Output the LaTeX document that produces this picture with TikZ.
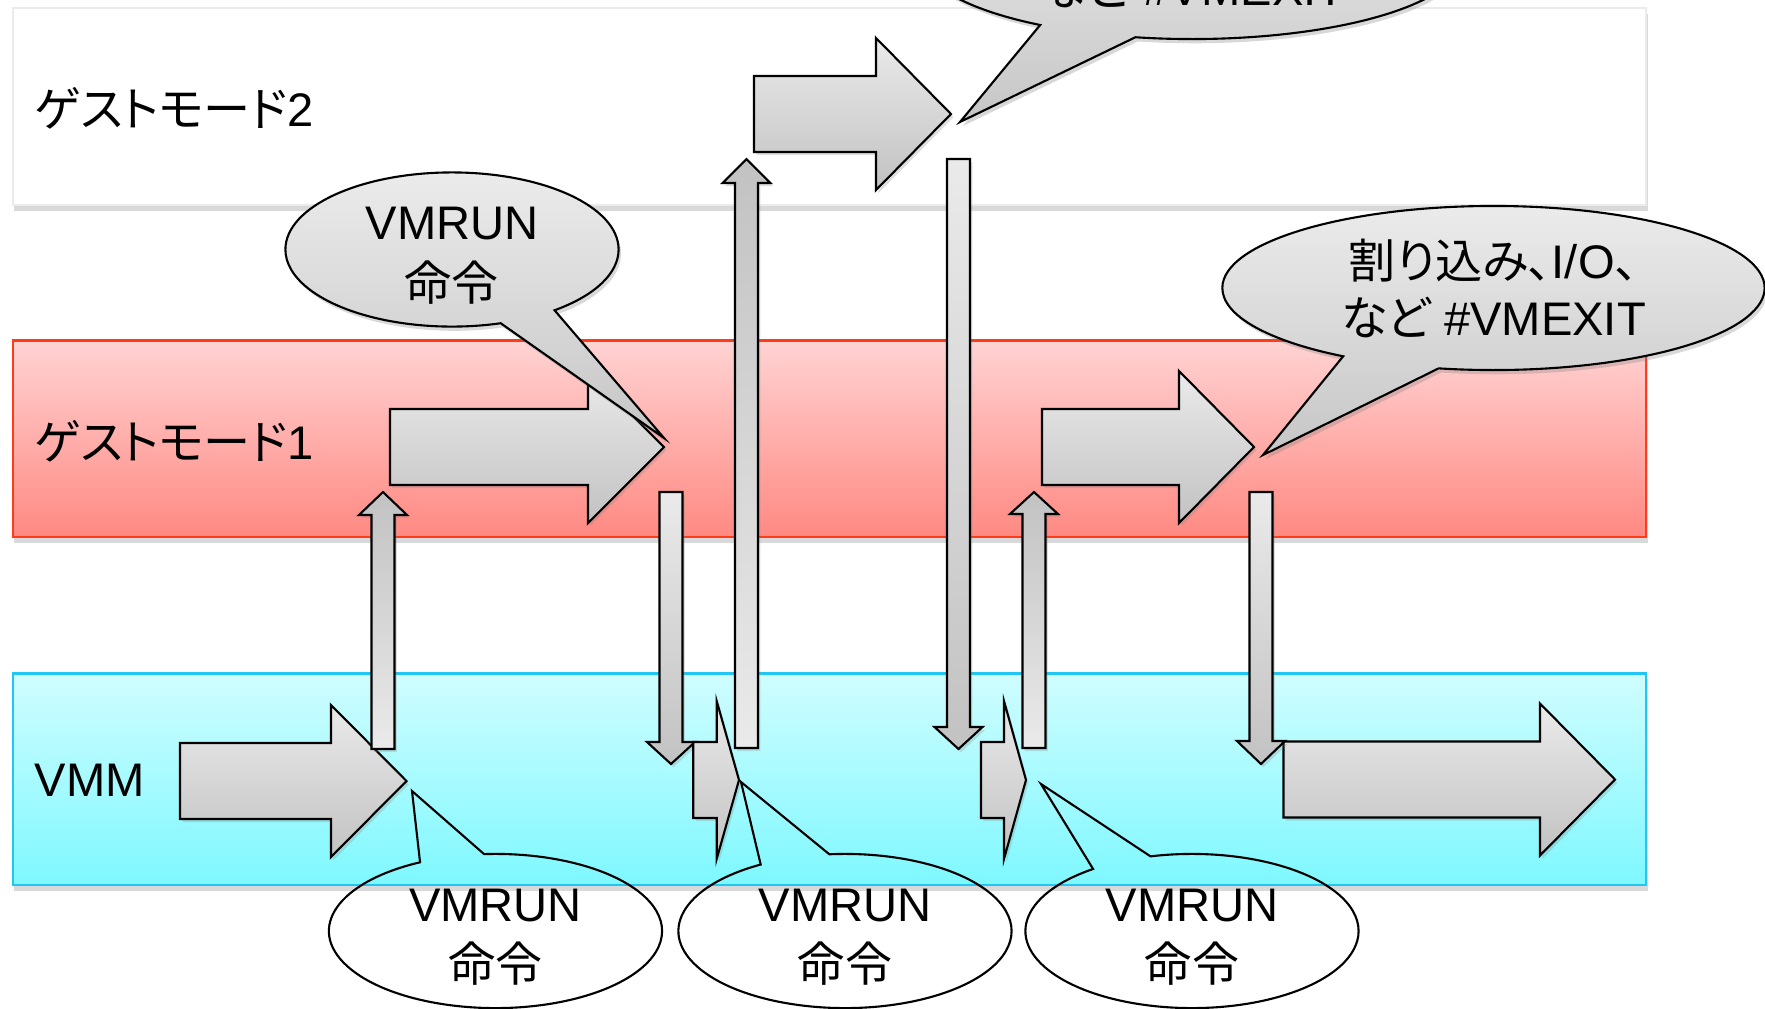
\documentclass[tikz,border=0pt]{standalone}
\usepackage{fontspec}
\setmainfont{Liberation Sans}
\newfontfamily\jp[RawFeature=+palt]{Noto Sans CJK JP}
\usepackage{tikz}
\usetikzlibrary{shapes.callouts,shadows}
\definecolor{redtop}{HTML}{FFD3D3}
\definecolor{redbot}{HTML}{FF8982}
\definecolor{redline}{HTML}{FF3B1A}
\definecolor{cyantop}{HTML}{D0FDFF}
\definecolor{cyanbot}{HTML}{7EF8FF}
\definecolor{cyanline}{HTML}{22C6F2}
\definecolor{blklight}{HTML}{EAEAEA}
\definecolor{blkdark}{HTML}{C2C2C2}
\definecolor{calltop}{HTML}{EBEBEB}
\definecolor{callbot}{HTML}{C6C6C6}
\tikzset{
  bandshadow/.style={drop shadow={shadow xshift=0.5pt, shadow yshift=-1.6pt, opacity=0.3}},
  guesttwo/.style={fill=white, draw=black!8, line width=0.6pt, bandshadow},
  guestone/.style={top color=redtop, bottom color=redbot, draw=redline, line width=0.6pt, bandshadow},
  vmmband/.style={top color=cyantop, bottom color=cyanbot, draw=cyanline, line width=0.6pt, bandshadow},
  lab/.style={font=\fontsize{13.4}{16.2}\selectfont, inner sep=0pt},
  blk/.style={draw=black, line width=0.6pt, line join=miter,
    drop shadow={shadow xshift=0.7pt, shadow yshift=-0.9pt, opacity=0.25}},
  blkh/.style={blk, top color=blklight, bottom color=blkdark},
  blkup/.style={blk, top color=blkdark, bottom color=blklight},
  blkdown/.style={blk, top color=blklight, bottom color=blkdark},
  bubble/.style={ellipse callout, draw=black, line width=0.6pt, inner sep=0pt, align=center, lab},
  graybub/.style={bubble, top color=calltop, bottom color=callbot,
    drop shadow={shadow xshift=0.7pt, shadow yshift=-1.2pt, opacity=0.3}},
  whitebub/.style={bubble},
  smallbub/.style={minimum width=3.33cm, minimum height=1.51cm},
  widebub/.style={minimum width=5.42cm, minimum height=1.64cm},
}
% tail x, head x, tip x, mid y, half shaft, half head
\newcommand{\harrow}[6]{%
  \draw[blkh] (#1,#4-#5) -- (#2,#4-#5) -- (#2,#4-#6) -- (#3,#4)
    -- (#2,#4+#6) -- (#2,#4+#5) -- (#1,#4+#5) -- cycle;}
% style, mid x, tail y, head y, tip y
\newcommand{\varrow}[5]{%
  \draw[#1] (#2-11.5,#3) -- (#2-11.5,#4) -- (#2-24,#4) -- (#2,#5)
    -- (#2+24,#4) -- (#2+11.5,#4) -- (#2+11.5,#3) -- cycle;}
\newcommand{\runtext}{\rule{0pt}{12.7pt}VMRUN\\[1pt]{\jp 命令}}

\begin{document}
\begin{tikzpicture}[x=0.01cm, y=-0.01cm]
  \useasboundingbox (0,0) rectangle (1765,1008);

  \draw[guesttwo] (12.7,8) rectangle (1646,205);
  \draw[guestone] (12.7,340.5) rectangle (1646,537);
  \draw[vmmband] (12.7,673.5) rectangle (1646,885);

  \node[lab, anchor=west] (g2lab) at (34,108) {{\jp ゲストモード}2};
  \node[lab, anchor=west] (g1lab) at (34,441) {{\jp ゲストモード}1};
  \node[lab, anchor=west] (vmmlab) at (34,780) {VMM};

  \harrow{180}{331}{406.5}{781}{38}{76}
  \harrow{390}{588}{664}{447}{38}{76}
  \harrow{754}{876}{951}{114}{38}{76}
  \harrow{1042}{1179}{1254}{447}{38}{76}
  \harrow{1283.5}{1540}{1615}{779.5}{38}{76}

  \varrow{blkup}{383}{749}{515}{492}
  \varrow{blkdown}{671}{492}{742}{764}
  \varrow{blkup}{746.5}{748}{183}{159}
  \varrow{blkdown}{958.5}{159}{727}{749}
  \varrow{blkup}{1034}{748}{514}{492}
  \varrow{blkdown}{1261}{492}{741}{764}

  \harrow{693.3}{716.7}{739}{780}{38}{79}
  \harrow{981}{1004}{1026}{780}{38}{79}

  \node[graybub, smallbub, callout pointer arc=21,
    callout absolute pointer={(664,438)}] (run1) at (452,249.5) {\runtext};
  \node[graybub, widebub, callout pointer arc=22,
    callout absolute pointer={(960,122)}] (exit1) at (1192,-43) {};
  \node[lab] (exit1txt) at (1193,-12.5) {{\jp など} \#VMEXIT};
  \node[graybub, widebub, callout pointer arc=22,
    callout absolute pointer={(1263,455)}] (exit2) at (1493.5,288)
    {{\jp 割り込み、}I/O{\jp 、}\\{\jp など} \#VMEXIT};

  \node[whitebub, smallbub, callout pointer arc=23,
    callout absolute pointer={(412,791)}] (run2) at (495.5,931) {\runtext};
  \node[whitebub, smallbub, callout pointer arc=25,
    callout absolute pointer={(741,782)}] (run3) at (845,931) {\runtext};
  \node[whitebub, smallbub, callout pointer arc=22,
    callout absolute pointer={(1041,784)}] (run4) at (1192,931) {\runtext};
\end{tikzpicture}
\end{document}
